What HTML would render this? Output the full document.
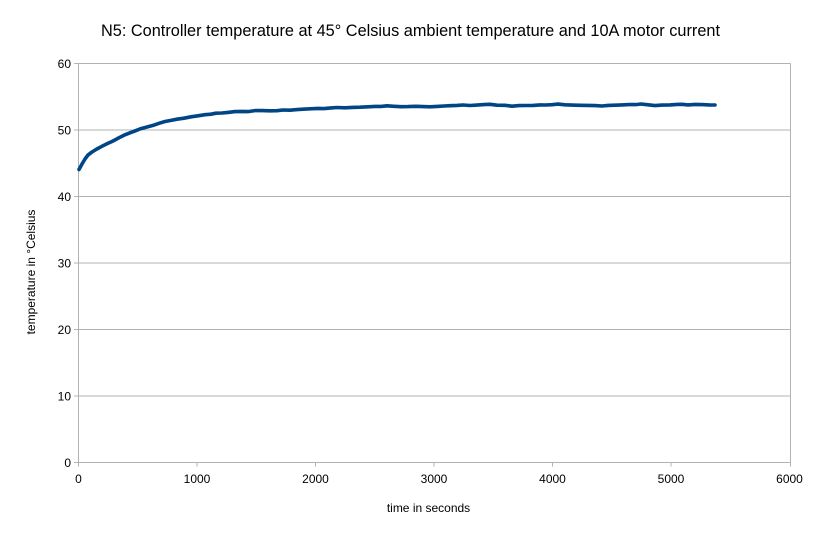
<!DOCTYPE html>
<html><head><meta charset="utf-8"><style>
html,body{margin:0;padding:0;background:#fff;}
svg{display:block;font-family:"Liberation Sans",sans-serif;}
</style></head><body>
<svg width="821" height="534" viewBox="0 0 821 534" xmlns="http://www.w3.org/2000/svg">
<rect width="821" height="534" fill="#fff"/>
<text x="101" y="36" font-size="16.3" textLength="619" lengthAdjust="spacingAndGlyphs" fill="#000">N5: Controller temperature at 45° Celsius ambient temperature and 10A motor current</text>
<g stroke="#b3b3b3" stroke-width="1" fill="none">
<line x1="78.5" y1="63.5" x2="790.5" y2="63.5"/>
<line x1="78.5" y1="130" x2="790.5" y2="130"/>
<line x1="78.5" y1="196.5" x2="790.5" y2="196.5"/>
<line x1="78.5" y1="263" x2="790.5" y2="263"/>
<line x1="78.5" y1="329.5" x2="790.5" y2="329.5"/>
<line x1="78.5" y1="396" x2="790.5" y2="396"/>
<line x1="78.5" y1="462.5" x2="790.5" y2="462.5"/>
<line x1="78.5" y1="63.5" x2="78.5" y2="466.5"/>
<line x1="790.5" y1="63.5" x2="790.5" y2="466.5"/>
<line x1="74" y1="63.5" x2="78.5" y2="63.5"/>
<line x1="74" y1="130" x2="78.5" y2="130"/>
<line x1="74" y1="196.5" x2="78.5" y2="196.5"/>
<line x1="74" y1="263" x2="78.5" y2="263"/>
<line x1="74" y1="329.5" x2="78.5" y2="329.5"/>
<line x1="74" y1="396" x2="78.5" y2="396"/>
<line x1="74" y1="462.5" x2="78.5" y2="462.5"/>
<line x1="197" y1="462.5" x2="197" y2="466.5"/>
<line x1="315.5" y1="462.5" x2="315.5" y2="466.5"/>
<line x1="434" y1="462.5" x2="434" y2="466.5"/>
<line x1="552.5" y1="462.5" x2="552.5" y2="466.5"/>
<line x1="671" y1="462.5" x2="671" y2="466.5"/>
</g>
<g font-size="12" fill="#000" text-anchor="end">
<text x="71" y="68">60</text>
<text x="71" y="134.5">50</text>
<text x="71" y="201">40</text>
<text x="71" y="267.5">30</text>
<text x="71" y="334">20</text>
<text x="71" y="400.5">10</text>
<text x="71" y="467">0</text>
</g>
<g font-size="12" fill="#000" text-anchor="middle">
<text x="78.5" y="483">0</text>
<text x="197" y="483">1000</text>
<text x="315.5" y="483">2000</text>
<text x="434" y="483">3000</text>
<text x="552.5" y="483">4000</text>
<text x="671" y="483">5000</text>
<text x="789.5" y="483">6000</text>
</g>
<text x="428.5" y="512" font-size="12" text-anchor="middle" fill="#000">time in seconds</text>
<text transform="translate(35,272) rotate(-90)" font-size="12" text-anchor="middle" fill="#000">temperature in °Celsius</text>
<polyline fill="none" stroke="#004586" stroke-width="3.6" stroke-linejoin="round" stroke-linecap="round"
points="79,169.5 82,164 85,159 88,155 92,152 96,149.5 100,147.3 104,145.2 108,143.3 112,141.5 116,139.4 120,137.2 125,134.8 130,132.8 135,130.9 141,128.6 147,127 153,125.4 159,123.3 165,121.5 171,120.4 177,119.2 184,118.2 191,116.8 198,115.8 205,114.7 211,114.2 216,113.2 222,113 228,112.4 235,111.6 242,111.4 248,111.6 255,110.6 262,110.6 270,110.8 277,110.7 283,110 290,110.2 297,109.6 303,109.2 310,108.8 318,108.4 324,108.6 331,107.9 337,107.5 345,107.8 352,107.4 360,107.2 368,106.8 375,106.4 381,106.4 387,105.8 394,106.3 401,106.7 408,106.6 416,106.3 423,106.6 430,106.8 437,106.4 444,106 450,105.7 457,105.4 463,105 470,105.5 477,105.1 484,104.6 490,104.3 497,105.2 505,105.3 512,106.2 519,105.6 526,105.5 533,105.4 540,104.9 546,105 552,104.7 558,104.1 565,104.8 572,105.1 580,105.3 588,105.4 595,105.6 602,106 608,105.4 615,105.2 622,104.9 629,104.6 636,104.6 641,104 647,104.7 655,105.6 662,105.1 670,104.9 677,104.4 682,104.3 688,104.9 695,104.4 702,104.6 709,104.9 715,105"/>
</svg>
</body></html>
